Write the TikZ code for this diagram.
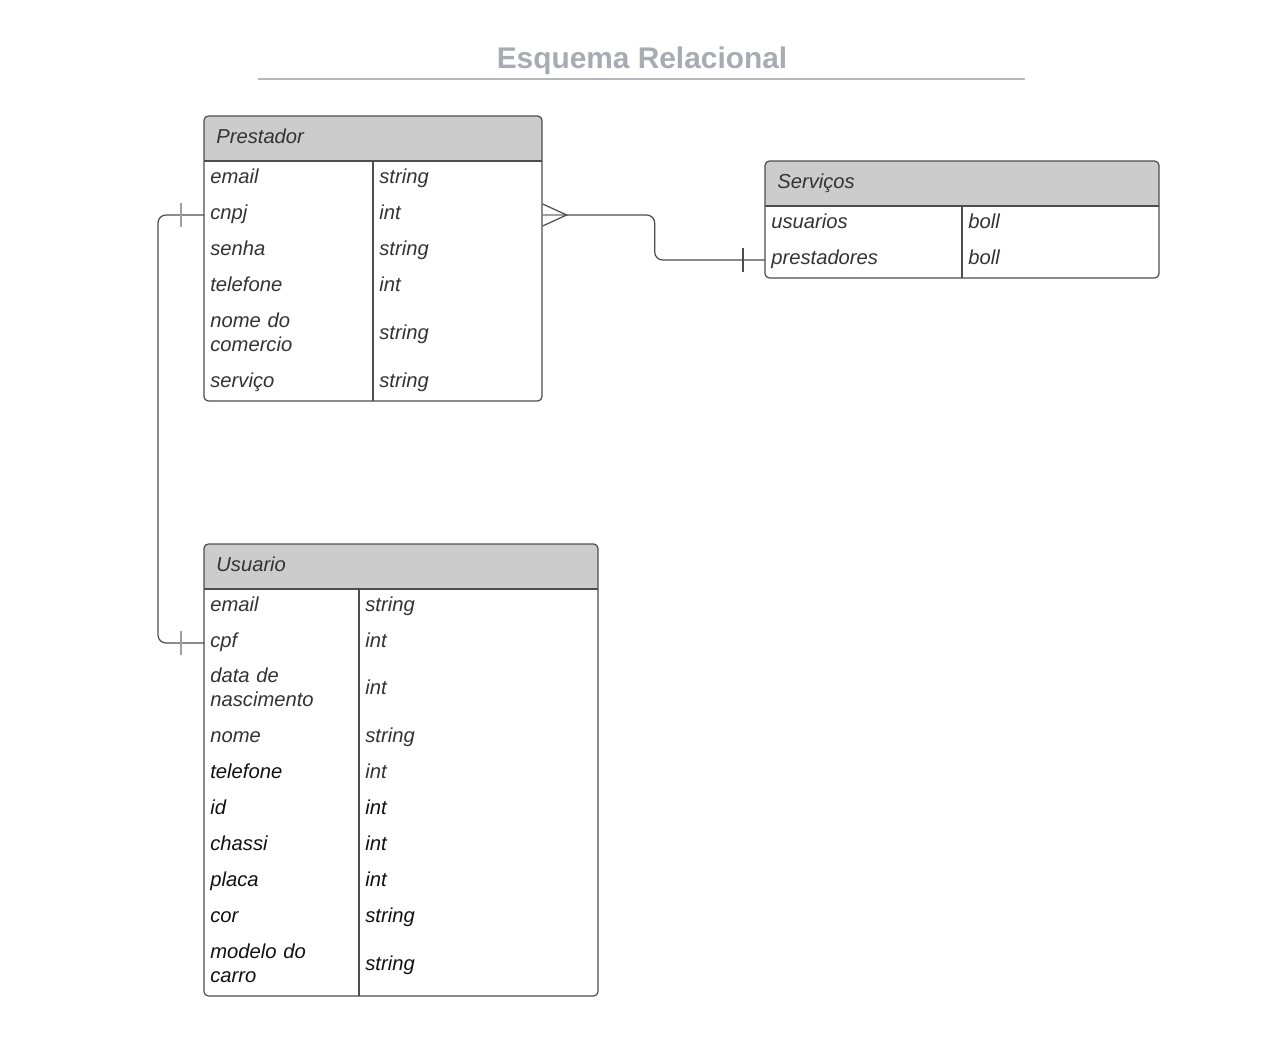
\documentclass[tikz,border=0pt]{standalone}
\usepackage{fontspec}
\setmainfont{Liberation Sans}

\definecolor{txt}{HTML}{333333}
\definecolor{txtdark}{HTML}{111111}
\definecolor{bordercol}{HTML}{4D4D4D}
\definecolor{headfill}{HTML}{CCCCCC}
\definecolor{titlegray}{HTML}{A8ACB2}
\definecolor{tickgray}{HTML}{A0A0A0}

\begin{document}
\begin{tikzpicture}[x=0.02cm, y=-0.02cm]
        \tikzstyle{title} = [font=\bfseries\fontsize{17}{20}\selectfont, text=titlegray]
        \tikzstyle{rule} = [draw=titlegray!85, line width=1.5pt]
        \tikzstyle{box} = [draw=bordercol, line width=0.7pt, rounded corners=2.5pt]
        \tikzstyle{head} = [anchor=west, inner sep=0pt, text height=9.3pt, text depth=4.4pt, font=\itshape\fontsize{11.5}{13.6}\selectfont, text=txt]
        \tikzstyle{attr} = [anchor=west, align=left, inner xsep=0.12cm, inner ysep=0pt, font=\itshape\fontsize{11.5}{13.6}\selectfont, text=txt]
        \tikzstyle{one} = [text height=9.3pt, text depth=4.4pt]
        \tikzstyle{pcol} = [attr, text width=3.14cm]
        \tikzstyle{scol} = [attr, text width=3.7cm]
        \tikzstyle{uname} = [attr, text width=2.86cm]
        \tikzstyle{utype} = [attr, text width=4.54cm]
        \tikzstyle{rel} = [draw=bordercol, line width=0.7pt, rounded corners=0.16cm]
        \tikzstyle{bar} = [draw=tickgray, line width=0.7pt]

        \useasboundingbox[fill=white] (0,0) rectangle (1280,1040);

        % titulo
        \node[title] (titulo) at (642,61) {Esquema Relacional};
        \draw[rule] (258,79) -- (1025,79);

        % Prestador
        \begin{scope}
            \clip[rounded corners=2.5pt] (204,116) rectangle (542,401);
            \fill[headfill] (204,116) rectangle (542,161);
        \end{scope}
        \draw[box] (204,116) rectangle (542,401);
        \draw[box] (204,161) -- (542,161) (373,161) -- (373,401);
        \node[head] (prestador) at (216,139) {Prestador};
        \node[pcol, one] (p-email) at (204,179) {email};
        \node[pcol, one] (p-email-t) at (373,179) {string};
        \node[pcol, one] (p-cnpj) at (204,215) {cnpj};
        \node[pcol, one] (p-cnpj-t) at (373,215) {int};
        \node[pcol, one] (p-senha) at (204,251) {senha};
        \node[pcol, one] (p-senha-t) at (373,251) {string};
        \node[pcol, one] (p-tel) at (204,287) {telefone};
        \node[pcol, one] (p-tel-t) at (373,287) {int};
        \node[pcol] (p-nome) at (204,332) {nome do\\comercio};
        \node[pcol, one] (p-nome-t) at (373,335) {string};
        \node[pcol, one] (p-serv) at (204,383) {serviço};
        \node[pcol, one] (p-serv-t) at (373,383) {string};

        % Servicos
        \begin{scope}
            \clip[rounded corners=2.5pt] (765,161) rectangle (1159,278);
            \fill[headfill] (765,161) rectangle (1159,206);
        \end{scope}
        \draw[box] (765,161) rectangle (1159,278);
        \draw[box] (765,206) -- (1159,206) (962,206) -- (962,278);
        \node[head] (servicos) at (777,184) {Serviços};
        \node[scol, one] (s-usu) at (765,224) {usuarios};
        \node[scol, one] (s-usu-t) at (962,224) {boll};
        \node[scol, one] (s-prest) at (765,260) {prestadores};
        \node[scol, one] (s-prest-t) at (962,260) {boll};

        % Usuario
        \begin{scope}
            \clip[rounded corners=2.5pt] (204,544) rectangle (598,996);
            \fill[headfill] (204,544) rectangle (598,589);
        \end{scope}
        \draw[box] (204,544) rectangle (598,996);
        \draw[box] (204,589) -- (598,589) (359,589) -- (359,996);
        \node[head] (usuario) at (216,567) {Usuario};
        \node[uname, one] (u-email) at (204,607) {email};
        \node[utype, one] (u-email-t) at (359,607) {string};
        \node[uname, one] (u-cpf) at (204,643) {cpf};
        \node[utype, one] (u-cpf-t) at (359,643) {int};
        \node[uname] (u-nasc) at (204,687) {data de\\nascimento};
        \node[utype, one] (u-nasc-t) at (359,690) {int};
        \node[uname, one] (u-nome) at (204,738) {nome};
        \node[utype, one] (u-nome-t) at (359,738) {string};
        \node[uname, one, text=txtdark] (u-tel) at (204,774) {telefone};
        \node[utype, one] (u-tel-t) at (359,774) {int};
        \node[uname, one, text=txtdark] (u-id) at (204,810) {id};
        \node[utype, one, text=txtdark] (u-id-t) at (359,810) {int};
        \node[uname, one, text=txtdark] (u-chassi) at (204,846) {chassi};
        \node[utype, one, text=txtdark] (u-chassi-t) at (359,846) {int};
        \node[uname, one, text=txtdark] (u-placa) at (204,882) {placa};
        \node[utype, one, text=txtdark] (u-placa-t) at (359,882) {int};
        \node[uname, one, text=txtdark] (u-cor) at (204,918) {cor};
        \node[utype, one, text=txtdark] (u-cor-t) at (359,918) {string};
        \node[uname, text=txtdark] (u-modelo) at (204,963) {modelo do\\carro};
        \node[utype, one, text=txtdark] (u-modelo-t) at (359,966) {string};

        % cnpj -- cpf
        \draw[rel] (p-cnpj.west) -- ++(-46,0) |- (u-cpf.west);
        \draw[bar] ([shift={(-23,-12)}]p-cnpj.west) -- ([shift={(-23,12)}]p-cnpj.west);
        \draw[bar] ([shift={(-23,-12)}]u-cpf.west) -- ([shift={(-23,12)}]u-cpf.west);

        % cnpj -- prestadores
        \draw[bar] (p-cnpj-t.east) -- ([shift={(24,0)}]p-cnpj-t.east);
        \draw[rel, rounded corners=0pt] ([shift={(0,-11)}]p-cnpj-t.east) -- ([shift={(24,0)}]p-cnpj-t.east) -- ([shift={(0,11)}]p-cnpj-t.east);
        \draw[rel] ([shift={(24,0)}]p-cnpj-t.east) -- ++(88,0) |- (s-prest.west);
        \draw[bar, draw=bordercol] ([shift={(-22,-12)}]s-prest.west) -- ([shift={(-22,12)}]s-prest.west);
\end{tikzpicture}
\end{document}
